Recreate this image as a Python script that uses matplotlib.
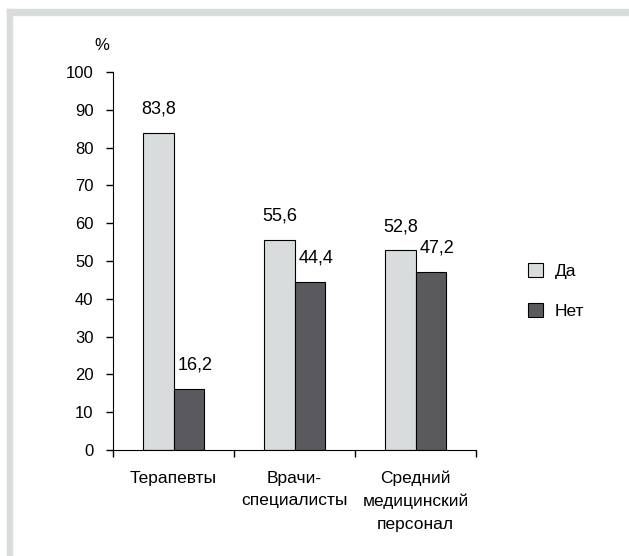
import matplotlib.pyplot as plt
import matplotlib.patches as mpatches
import numpy as np

plt.rcParams['font.family'] = ['Liberation Sans', 'DejaVu Sans']

# Data
categories = ['Терапевты', 'Врачи-\nспециалисты', 'Средний\nмедицинский\nперсонал']
yes_values = [83.8, 55.6, 52.8]
no_values = [16.2, 44.4, 47.2]
yes_labels = ['83,8', '55,6', '52,8']
no_labels = ['16,2', '44,4', '47,2']

light = '#d9dcdd'
dark = '#5a595e'

fig = plt.figure(figsize=(6.29, 5.56), dpi=100)

# Gray frame (top and left bands)
fig.patches.append(mpatches.Rectangle((7 / 629, 0), 5 / 629, 1 - 9 / 556,
                                      transform=fig.transFigure, color=light, zorder=0))
fig.patches.append(mpatches.Rectangle((7 / 629, 1 - 15 / 556), 1, 6 / 556,
                                      transform=fig.transFigure, color=light, zorder=0))

ax = fig.add_axes([113 / 629, 1 - 450 / 556, 363 / 629, 378 / 556])

x = np.arange(len(categories))
w = 0.25
ax.bar(x - w / 2, yes_values, w, color=light, edgecolor='black', linewidth=0.8, label='Да')
ax.bar(x + w / 2, no_values, w, color=dark, edgecolor='black', linewidth=0.8, label='Нет')

for i in range(len(categories)):
    ax.annotate(yes_labels[i], (x[i] - w / 2, yes_values[i]), xytext=(0, 11),
                textcoords='offset points', ha='center', va='bottom', fontsize=13)
    ax.annotate(no_labels[i], (x[i] + w / 2 + 0.05, no_values[i]), xytext=(0, 11),
                textcoords='offset points', ha='center', va='bottom', fontsize=13)

ax.set_xlim(-0.5, 2.5)
ax.set_ylim(0, 100)
ax.set_yticks(range(0, 101, 10))
ax.tick_params(axis='y', labelsize=12, length=5, width=1, pad=9)

# category boundaries as ticks, labels at centers
ax.set_xticks([-0.5, 0.5, 1.5, 2.5])
ax.set_xticklabels([])
ax.set_xticks(x, minor=True)
ax.set_xticklabels(categories, minor=True, fontsize=12.5, linespacing=1.6)
ax.tick_params(axis='x', which='major', length=5, width=1, direction='out')
ax.tick_params(axis='x', which='minor', length=0, pad=15)

ax.spines['top'].set_visible(False)
ax.spines['right'].set_visible(False)

ax.text(-0.05, 1.071, '%', transform=ax.transAxes, fontsize=12, ha='left', va='center')

ax.legend(loc='center left', bbox_to_anchor=(1.1, 0.42), frameon=False, fontsize=12.5,
          handlelength=0.85, handleheight=0.85, labelspacing=1.4, handletextpad=0.7)

fig.savefig('out.png', dpi=100)
